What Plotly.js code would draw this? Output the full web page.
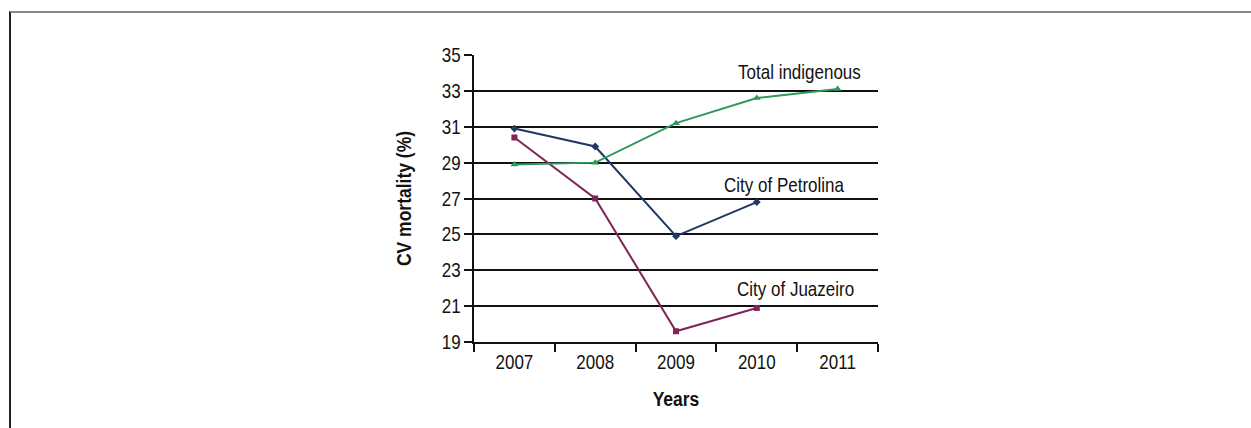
<!DOCTYPE html>
<html>
<head>
<meta charset="utf-8">
<script src="https://cdn.plot.ly/plotly-3.0.1.min.js"></script>
<style>
html,body{margin:0;padding:0;background:#fff;}
#wrap{position:relative;width:1251px;height:428px;}
#frame{position:absolute;left:9px;top:11px;width:1242px;height:417px;border-top:2px solid #8a8a8a;border-left:2px solid #222;box-sizing:border-box;pointer-events:none;}
#chart{position:absolute;left:0;top:0;width:1251px;height:428px;}
</style>
</head>
<body>
<div id="wrap">
<div id="chart"></div>
<div id="frame"></div>
</div>
<script>
const years = ['2007','2008','2009','2010','2011'];
const petrolina = [30.9, 29.9, 24.9, 26.8];
const juazeiro = [30.4, 27.0, 19.6, 20.9];
const totalIndigenous = [28.9, 29.0, 31.2, 32.6, 33.1];
const yTicks = [19,21,23,25,27,29,31,33,35];
const labels = ['Total indigenous','City of Petrolina','City of Juazeiro'];

const font = "'Liberation Sans', Arial, sans-serif";

const traces = [
  {x: years.slice(0, petrolina.length), y: petrolina, mode:'lines+markers', type:'scatter',
   line:{color:'#1f3864', width:2}, marker:{symbol:'diamond', size:6, color:'#1f3864'}},
  {x: years.slice(0, juazeiro.length), y: juazeiro, mode:'lines+markers', type:'scatter',
   line:{color:'#7f2457', width:2}, marker:{symbol:'square', size:6, color:'#7f2457'}},
  {x: years, y: totalIndigenous, mode:'lines+markers', type:'scatter',
   line:{color:'#2e9a5e', width:2}, marker:{symbol:'triangle-up', size:7, color:'#2e9a5e'}}
];

const layout = {
  width:1251, height:428,
  margin:{l:474, r:373, t:55, b:86},
  paper_bgcolor:'rgba(0,0,0,0)', plot_bgcolor:'rgba(0,0,0,0)',
  showlegend:false,
  font:{family:font, size:17, color:'#111'},
  xaxis:{type:'category', categoryorder:'array', categoryarray:years,
    range:[-0.5, 4.5], tickson:'boundaries', ticks:'outside', ticklen:8, tickwidth:2, tickcolor:'#111',
    showline:true, linecolor:'#111', linewidth:2, showgrid:false, zeroline:false,
    ticklabelstandoff:4,
    tickfont:{family:font, size:17, color:'#111'},
    title:{text:'<b>Years</b>', font:{family:font, size:17.5, color:'#111'}, standoff:21}},
  yaxis:{range:[19,35], tickvals:yTicks, ticks:'outside', ticklen:8, tickwidth:2, tickcolor:'#111',
    showline:true, linecolor:'#111', linewidth:2, showgrid:true, gridcolor:'#111', gridwidth:2, zeroline:false,
    tickfont:{family:font, size:17, color:'#111'},
    title:{text:'<b>CV mortality (%)</b>', font:{family:font, size:17.5, color:'#111'}, standoff:27}},
  annotations:[
    {x:3.53, y:34.0, xref:'x', yref:'y', text:labels[0], showarrow:false, font:{family:font, size:17, color:'#111'}},
    {x:3.34, y:27.7, xref:'x', yref:'y', text:labels[1], showarrow:false, font:{family:font, size:17, color:'#111'}},
    {x:3.48, y:21.9, xref:'x', yref:'y', text:labels[2], showarrow:false, font:{family:font, size:17, color:'#111'}}
  ]
};

// The reference lettering is taller than it is wide: stretch each text vertically about its own centre.
function stretchText(gd, sy) {
  gd.querySelectorAll('svg text').forEach(function (t) {
    if (!t.textContent.trim()) return;
    const b = t.getBBox();
    const cx = b.x + b.width / 2, cy = b.y + b.height / 2;
    const prev = t.getAttribute('transform') || '';
    t.setAttribute('transform', prev + ' translate(' + cx + ',' + cy + ') scale(1,' + sy + ') translate(' + (-cx) + ',' + (-cy) + ')');
  });
}

Plotly.newPlot('chart', traces, layout, {displayModeBar:false, staticPlot:true}).then(function (gd) {
  stretchText(gd, 1.2);
});
</script>
</body>
</html>
